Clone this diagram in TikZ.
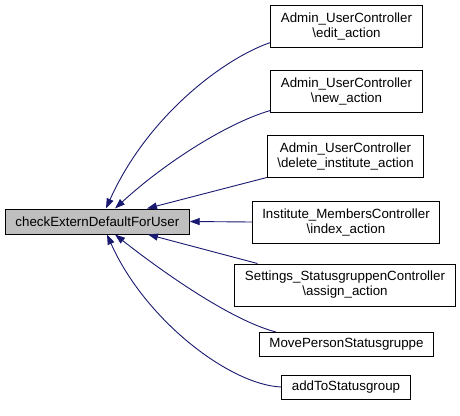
\documentclass[tikz,border=0pt]{standalone}
\usepackage{fontspec}
\setmainfont{Liberation Sans}
\usetikzlibrary{arrows.meta,calc}
\definecolor{edgeblue}{HTML}{191970}
\definecolor{maingray}{HTML}{BFBFBF}
\tikzset{
  box/.style={draw=black, line width=1pt, fill=white, inner xsep=10pt, inner ysep=2pt,
    align=center, font=\fontsize{13.33}{15}\selectfont},
  onebox/.style={box, minimum height=24pt},
  twobox/.style={box, minimum height=42pt},
  mainbox/.style={onebox, fill=maingray, minimum height=25pt},
  link/.style={draw=edgeblue, line width=0.9pt, -{Triangle[length=10pt,width=7pt,fill=edgeblue]}}
}
\begin{document}
\begin{tikzpicture}[x=1pt,y=-1pt]
\useasboundingbox (0,0) rectangle (460,415);
\node[mainbox, anchor=west] (main) at (5,221.5) {checkExternDefaultForUser};
\node[twobox] (e1) at (346.5,26) {Admin\_UserController\\\textbackslash edit\_action};
\node[twobox] (e2) at (346.5,91) {Admin\_UserController\\\textbackslash new\_action};
\node[twobox] (e3) at (345.5,156) {Admin\_UserController\\\textbackslash delete\_institute\_action};
\node[twobox] (e4) at (346,222) {Institute\_MembersController\\\textbackslash index\_action};
\node[twobox] (e5) at (345,285) {Settings\_StatusgruppenController\\\textbackslash assign\_action};
\node[onebox] (e6) at (346.5,344.5) {MovePersonStatusgruppe};
\node[onebox] (e7) at (346,387) {addToStatusgroup};

\coordinate (t1) at ($(main.north west)+(101,0)$);
\coordinate (t2) at ($(main.north west)+(110,0)$);
\coordinate (t3) at ($(main.north west)+(142,0)$);
\coordinate (t5) at ($(main.south west)+(143,0)$);
\coordinate (t6) at ($(main.south west)+(110,0)$);
\coordinate (t7) at ($(main.south west)+(102,0)$);

\coordinate (s1) at ($(e1.south west)+(0,-5)$);
\coordinate (s2) at ($(e2.south west)+(0,-2)$);
\coordinate (s5) at ($(e5.north west)+(23,0)$);
\coordinate (s6) at ($(e6.north west)+(17,0)$);

\draw[link] (s1) .. controls (225,58) and (148,115) .. (t1);
\draw[link] (s2) .. controls (230,122) and (168,160) .. (t2);
\draw[link] (e3.south west) -- (t3);
\draw[link] (e4.west) -- (main.east);
\draw[link] (s5) -- (t5);
\draw[link] (s6) .. controls (230,320) and (160,270) .. (t6);
\draw[link] (e7.west) .. controls (230,385) and (145,320) .. (t7);
\end{tikzpicture}
\end{document}
